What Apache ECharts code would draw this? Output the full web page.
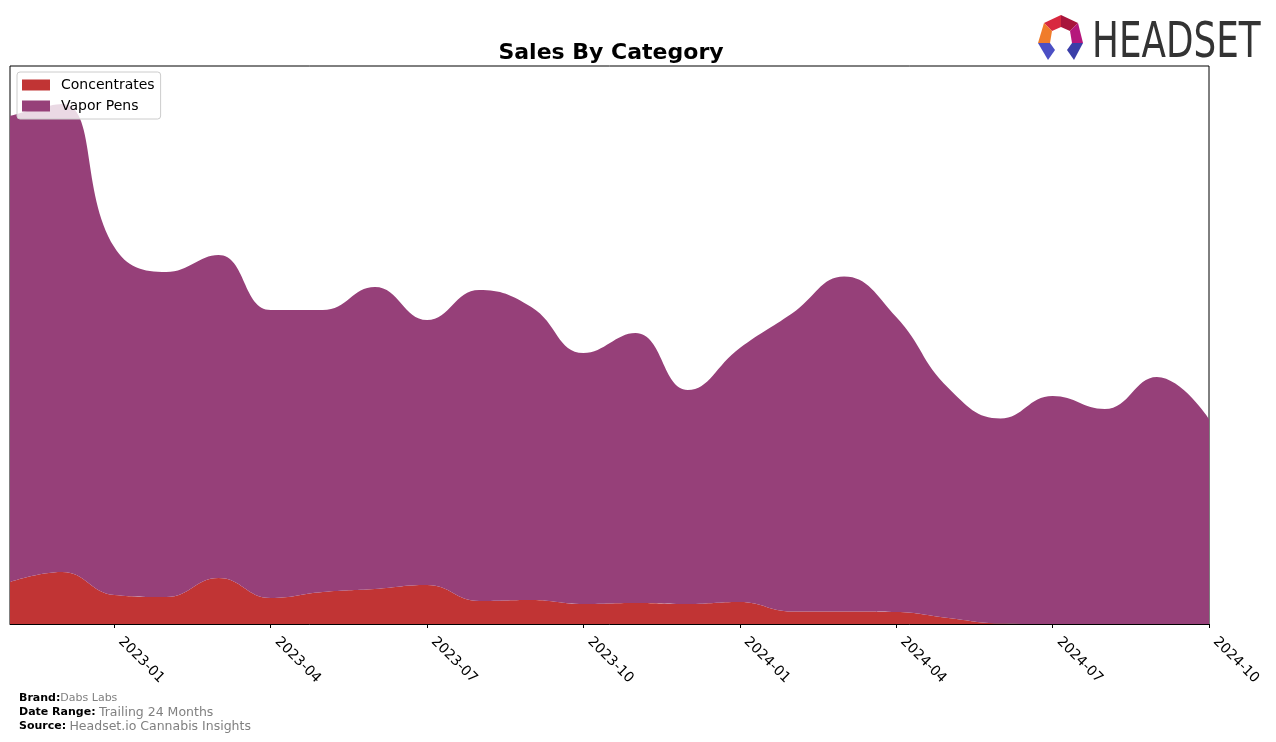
<!DOCTYPE html>
<html>
<head>
<meta charset="utf-8">
<script src="https://cdn.jsdelivr.net/npm/echarts@6/dist/echarts.min.js"></script>
<style>
html,body{margin:0;padding:0;background:#fff;}
#chart{width:1276px;height:742px;}
</style>
</head>
<body>
<div id="chart"></div>
<script>
// ---- data (arbitrary units) ----
const months = ['2022-11','2022-12','2023-01','2023-02','2023-03','2023-04','2023-05','2023-06','2023-07','2023-08','2023-09','2023-10','2023-11','2023-12','2024-01','2024-02','2024-03','2024-04','2024-05','2024-06','2024-07','2024-08','2024-09','2024-10'];
const concentrates = [42, 52, 29, 27, 46, 26, 32, 35, 39, 23, 24, 20, 21, 20, 22, 12.5, 12.5, 12, 6, 0.5, 0, 0, 0, 0];
const vaporPens = [466, 468, 348, 325, 323, 288, 282, 302, 265, 311, 293, 251, 270, 214, 254, 298, 335, 295, 230, 205, 228, 215, 247, 205];
const tickLabels = ['2023-01','2023-04','2023-07','2023-10','2024-01','2024-04','2024-07','2024-10'];
const seriesNames = ['Concentrates','Vapor Pens'];
const seriesColors = ['#c13434','#964079'];

const chart = echarts.init(document.getElementById('chart'), null, {renderer:'canvas'});

function mkSeries(name, vals, color){
  return {
    name: name, type: 'line', stack: 'total', smooth: 0.45, showSymbol: false,
    lineStyle: {width: 0}, itemStyle: {color: color},
    areaStyle: {color: color, opacity: 1},
    data: vals
  };
}
const isTick = (idx, val) => tickLabels.indexOf(val) >= 0;

const option = {
  animation: false,
  backgroundColor: '#fff',
  title: {
    text: 'Sales By Category', left: 606, top: 37, textAlign: 'center',
    textStyle: {fontFamily: 'DejaVu Sans', fontWeight: 'bold', fontSize: 22, color: '#000'}
  },
  legend: {
    orient: 'vertical', left: 17, top: 72, padding: [6, 6, 6, 5], itemGap: 7,
    itemWidth: 28, itemHeight: 11, icon: 'rect',
    backgroundColor: 'rgba(255,255,255,0.8)', borderColor: '#cccccc', borderWidth: 1, borderRadius: 3,
    textStyle: {fontFamily: 'DejaVu Sans', fontSize: 14, color: '#000', padding: [0,0,0,6], lineHeight: 14},
    data: seriesNames
  },
  grid: {left: 10, right: 67, top: 66, bottom: 118, show: true, borderColor: '#000', borderWidth: 1, containLabel: false},
  xAxis: {
    type: 'category', boundaryGap: false, data: months,
    axisLine: {show: true, lineStyle: {color: '#000', width: 1}},
    axisTick: {show: true, interval: isTick, length: 4, lineStyle: {color: '#000'}},
    axisLabel: {
      interval: isTick, rotate: -45, margin: 9, color: '#000', padding: [0, 0, 0, 9],
      fontFamily: 'DejaVu Sans', fontSize: 14
    },
    splitLine: {show: false}
  },
  yAxis: {
    type: 'value', min: 0, max: 558,
    axisLine: {show: false}, axisTick: {show: false}, axisLabel: {show: false}, splitLine: {show: false}
  },
  series: [
    mkSeries(seriesNames[0], concentrates, seriesColors[0]),
    mkSeries(seriesNames[1], vaporPens, seriesColors[1])
  ],
  graphic: [
    {type: 'text', left: 19, top: 693, style: {
      text: '{b|Brand:}{g|Dabs Labs}',
      rich: {b: {fontFamily: 'DejaVu Sans', fontWeight: 'bold', fontSize: 11, fill: '#000'},
             g: {fontFamily: 'DejaVu Sans', fontSize: 11, fill: '#808080'}}}},
    {type: 'text', left: 19, top: 706, style: {
      text: '{b|Date Range:} {g|Trailing 24 Months}',
      rich: {b: {fontFamily: 'DejaVu Sans', fontWeight: 'bold', fontSize: 11, fill: '#000'},
             g: {fontFamily: 'DejaVu Sans', fontSize: 12.5, fill: '#808080'}}}},
    {type: 'text', left: 19, top: 720, style: {
      text: '{b|Source:} {g|Headset.io Cannabis Insights}',
      rich: {b: {fontFamily: 'DejaVu Sans', fontWeight: 'bold', fontSize: 11, fill: '#000'},
             g: {fontFamily: 'DejaVu Sans', fontSize: 12.5, fill: '#808080'}}}},
    // logo
    {type: 'polygon', shape: {points: [[1044,23],[1061,15],[1061,27],[1052,31]]}, style: {fill: '#d8283f'}},
    {type: 'polygon', shape: {points: [[1061,15],[1078,23],[1070,31],[1061,27]]}, style: {fill: '#a8153c'}},
    {type: 'polygon', shape: {points: [[1044,23],[1052,31],[1050,43],[1038,43]]}, style: {fill: '#f07c2a'}},
    {type: 'polygon', shape: {points: [[1078,23],[1083,43],[1072,43],[1070,31]]}, style: {fill: '#b5177c'}},
    {type: 'polygon', shape: {points: [[1038,43],[1050,43],[1055,50],[1048,60]]}, style: {fill: '#4b4fc4'}},
    {type: 'polygon', shape: {points: [[1072,43],[1083,43],[1074,60],[1067,50]]}, style: {fill: '#3a3ea8'}},
    {type: 'text', x: 1092, y: 19, scaleX: 0.715, style: {
      text: 'HEADSET', fontFamily: 'DejaVu Sans', fontSize: 50, fill: '#333333'}}
  ]
};
chart.setOption(option);
</script>
</body>
</html>
